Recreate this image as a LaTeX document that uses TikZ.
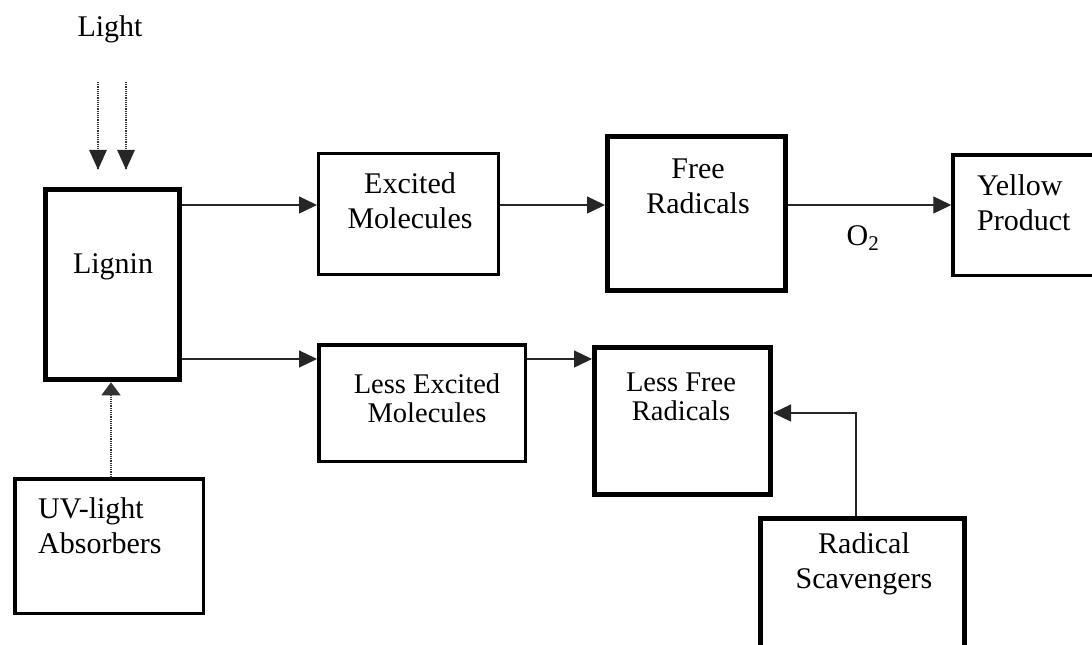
\documentclass[tikz,border=0pt]{standalone}
\usepackage{fontspec}
\setmainfont{Liberation Serif}
\usetikzlibrary{arrows.meta,calc}
\begin{document}
\begin{tikzpicture}[x=1pt,y=-1pt,
  box/.style={draw,line width=3.5pt,inner sep=0pt},
  heavy/.style={draw,line width=5pt,inner sep=0pt},
  lbl/.style={inner sep=0pt,anchor=base,align=center,font=\fontsize{30}{35}\selectfont},
  lbllow/.style={inner sep=0pt,anchor=base,align=center,font=\fontsize{28.5}{29}\selectfont},
  conn/.style={line width=1.3pt,draw=black!85,-{Triangle[length=18pt,width=17pt]}},
  dotconn/.style={line width=1.4pt,draw=black!80,dash pattern=on 1.2pt off 1pt}
]
\useasboundingbox (0,0) rectangle (1092,645);
\clip (0,0) rectangle (1092,645);

% boxes
\node[heavy,minimum width=134.5pt,minimum height=190.5pt] (lig) at (112.5,284.5) {};
\node[box,minimum width=188.5pt,minimum height=134.5pt] (uv) at (109,546) {};
\node[box,line width=3pt,minimum width=180pt,minimum height=121pt] (exc) at (408.5,214) {};
\node[heavy,minimum width=178pt,minimum height=154pt] (free) at (696.5,213.5) {};
\node[box,minimum width=150pt,minimum height=120.5pt] (yel) at (1028,215) {};
\node[box,minimum width=206.5pt,minimum height=116.5pt] (lexc) at (422,403) {};
\node[heavy,minimum width=176pt,minimum height=147pt] (lfree) at (682.5,421) {};
\node[heavy,minimum width=204pt,minimum height=141pt] (rad) at (862.5,589) {};

% texts (multi-line nodes: base = baseline of last line)
\node[lbl] (tlight) at (110,36) {Light};
\node[lbl] (tlig) at (113,273) {Lignin};
\node[lbl,anchor=base west,align=left] (tuv) at (38,553) {UV-light\\Absorbers};
\node[lbl] (texc) at (410,228) {Excited\\Molecules};
\node[lbl] (tfree) at (698,213) {Free\\Radicals};
\node[lbl,anchor=base west,align=left] (tyel) at (977,230) {Yellow\\Product};
\node[lbl] (to2) at (863,245) {O\textsubscript{2}};
\node[lbllow] (tlexc) at (427,422) {Less Excited\\Molecules};
\node[lbllow] (tlfree) at (681,420) {Less Free\\Radicals};
\node[lbl] (trad) at (864,588) {Radical\\Scavengers};

% helper coordinates
\coordinate (r1) at (0,205);
\coordinate (r2) at (0,359);
\coordinate (r3) at (0,413);
\coordinate (c1) at (98,82);
\coordinate (c2) at (126,82);
\coordinate (c3) at (111,0);
\coordinate (c4) at (856,0);

% connectors
\draw[conn] (r1 -| lig.east) -- (r1 -| exc.west);
\draw[conn] (r1 -| exc.east) -- (r1 -| free.west);
\draw[conn] (r1 -| free.east) -- (r1 -| yel.west);
\draw[conn] (r2 -| lig.east) -- (r2 -| lexc.west);
\draw[conn] (r2 -| lexc.east) -- (r2 -| lfree.west);
\draw[conn] (c4 |- rad.north) |- (r3 -| lfree.east);

% light arrows (dotted)
\draw[dotconn,shorten >=17pt] (c1) -- (c1 |- lig.north);
\draw[dotconn,shorten >=17pt] (c2) -- (c2 |- lig.north);
\fill[black!85] ($(c1 |- lig.north)+(-9,-37)$) -- ($(c1 |- lig.north)+(9,-37)$) -- ($(c1 |- lig.north)+(0,-17)$) -- cycle;
\fill[black!85] ($(c2 |- lig.north)+(-9,-37)$) -- ($(c2 |- lig.north)+(9,-37)$) -- ($(c2 |- lig.north)+(0,-17)$) -- cycle;

% UV arrow (dotted)
\draw[dotconn,-{Triangle[length=13pt,width=19pt]},draw=black!80] (c3 |- uv.north) -- (c3 |- lig.south);
\end{tikzpicture}
\end{document}
